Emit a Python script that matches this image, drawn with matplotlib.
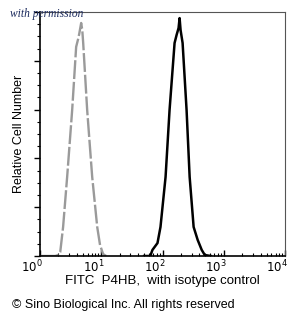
import numpy as np
from matplotlib import pyplot as plt
from matplotlib import transforms
from matplotlib.ticker import LogLocator, MultipleLocator, NullFormatter

plt.rcParams['font.family'] = ['Liberation Sans', 'DejaVu Sans']

# isotype control (grey dashed): log10 intensity / relative count
iso_logx = [0.0, 0.25, 0.295, 0.33, 0.377, 0.443, 0.525, 0.59, 0.623, 0.64, 0.672,
            0.69, 0.705, 0.77, 0.852, 0.934, 0.98, 1.03, 1.08]
iso_y = [0.0, 0.0, 0.4, 1.6, 11.9, 32.4, 59.8, 85.7, 89.0, 91.0, 95.5,
         92.6, 87.3, 59.8, 32.4, 11.9, 4.5, 0.8, 0.0]

# P4HB stained (black)
p4hb_logx = [1.70, 1.80, 1.836, 1.918, 1.967, 2.05, 2.115, 2.197, 2.23, 2.262, 2.279,
             2.295, 2.328, 2.393, 2.443, 2.508, 2.574, 2.64, 2.69, 2.79]
p4hb_y = [0.0, 0.0, 2.5, 5.3, 11.9, 32.4, 59.8, 87.3, 90.6, 93.4, 97.5,
          92.6, 87.3, 59.8, 32.4, 11.9, 6.6, 2.5, 0.4, 0.0]

tick_vals = [1, 10, 100, 1000, 10000]
tick_labels = [r'$10^0$', r'$10^1$', r'$10^2$', r'$10^3$', r'$10^4$']

fig = plt.figure(figsize=(2.91, 3.2), dpi=100)
ax = fig.add_axes([0.1375, 0.2, 0.8419, 0.7625])

ax.plot(10 ** np.array(iso_logx), iso_y, color='#9a9a9a', lw=1.7, ls=(0, (8, 1.2)))
ax.plot(10 ** np.array(p4hb_logx), p4hb_y, color='black', lw=1.8)

ax.set_xscale('log')
ax.set_xlim(1, 1e4)
ax.set_ylim(0, 100)
ax.set_xticks(tick_vals)
ax.set_xticklabels(tick_labels)
ax.xaxis.set_minor_locator(LogLocator(base=10, subs=np.arange(2, 10), numticks=10))
ax.xaxis.set_minor_formatter(NullFormatter())
ax.tick_params(axis='x', which='major', direction='in', length=4, width=1, labelsize=8.5, pad=2)
ax.tick_params(axis='x', which='minor', direction='in', length=2, width=0.8)
# labels sit just left of their ticks in the original
shift = transforms.ScaledTranslation(3 / 100, 0, fig.dpi_scale_trans)
for lab in ax.get_xticklabels():
    lab.set_horizontalalignment('right')
    lab.set_transform(lab.get_transform() + shift)

ax.yaxis.set_major_locator(MultipleLocator(20))
ax.yaxis.set_minor_locator(MultipleLocator(5))
ax.set_yticklabels([])
ax.tick_params(axis='y', which='major', direction='out', length=4, width=1)
ax.tick_params(axis='y', which='minor', direction='out', length=2, width=0.8)

for s in ['left', 'bottom']:
    ax.spines[s].set_linewidth(1.2)
for s in ['top', 'right']:
    ax.spines[s].set_linewidth(0.8)
    ax.spines[s].set_color('#555555')

ax.set_xlabel('FITC  P4HB,  with isotype control', fontsize=9.5, labelpad=0)
ax.set_ylabel('Relative Cell Number', fontsize=9, labelpad=3)

fig.text(0.035, 0.957, 'with permission', family='Liberation Serif', style='italic',
         fontsize=8.3, color='#1c2b5e', va='center')
fig.text(0.04, 0.047, '\u00a9 Sino Biological Inc. All rights reserved', fontsize=9,
         va='center')

fig.savefig('out.png', dpi=100)
